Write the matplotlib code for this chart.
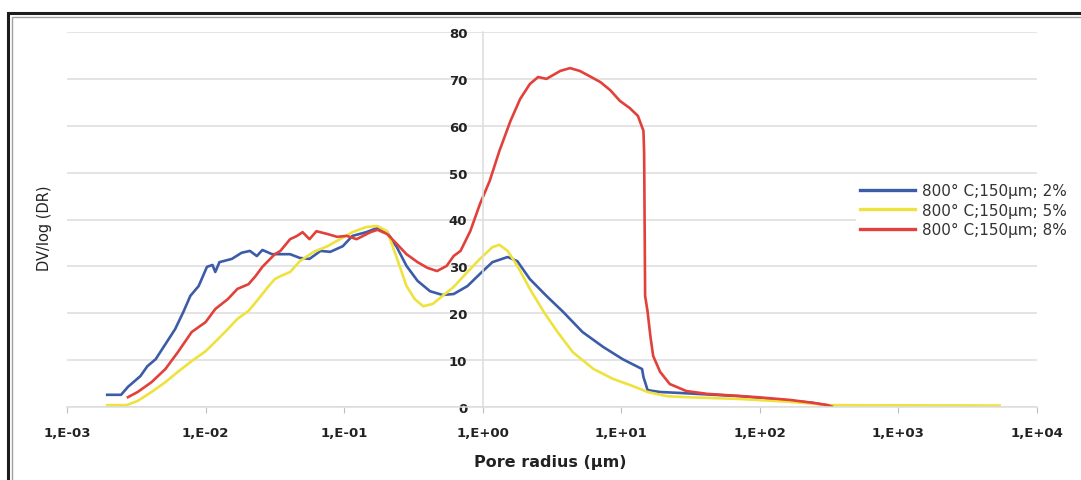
"""
Distribución de tamaño de poro (DV/log(DR)) para tres muestras a 800 °C.
"""
import matplotlib.pyplot as plt
from matplotlib.patches import Rectangle
from matplotlib.ticker import FixedLocator, FuncFormatter, NullLocator
import numpy as np

# Datos: log10 del radio de poro (µm) y DV/log(DR)
labels = ["800° C;150µm; 2%", "800° C;150µm; 5%", "800° C;150µm; 8%"]
colors = ["#3c5ca8", "#eee23e", "#e2403a"]

log_r_2 = [-2.71, -2.61, -2.56, -2.47, -2.42, -2.36, -2.29, -2.22, -2.16, -2.11,
           -2.05, -1.99, -1.95, -1.93, -1.90, -1.81, -1.74, -1.68, -1.63, -1.59,
           -1.52, -1.39, -1.32, -1.25, -1.17, -1.10, -1.01, -0.94, -0.84, -0.76,
           -0.69, -0.62, -0.55, -0.47, -0.38, -0.29, -0.21, -0.11, -0.02, 0.07,
           0.18, 0.25, 0.34, 0.46, 0.58, 0.72, 0.87, 1.01, 1.11, 1.15,
           1.16, 1.19, 1.28, 1.42, 1.86, 2.22, 2.38, 2.48, 2.51]
dv_2 = [2.6, 2.6, 4.3, 6.6, 8.7, 10.2, 13.4, 16.6, 20.3, 23.7,
        25.8, 29.9, 30.3, 28.8, 30.9, 31.6, 32.9, 33.3, 32.2, 33.5,
        32.6, 32.6, 31.8, 31.6, 33.3, 33.1, 34.3, 36.5, 37.3, 38.2,
        37.3, 34.1, 30.1, 26.9, 24.7, 23.9, 24.1, 25.8, 28.4, 30.9,
        32.0, 31.1, 27.3, 23.7, 20.3, 16.0, 12.8, 10.2, 8.7, 8.1,
        6.4, 3.6, 3.2, 3.0, 2.3, 1.3, 0.9, 0.4, 0.1]

log_r_5 = [-2.71, -2.57, -2.49, -2.39, -2.29, -2.20, -2.10, -2.00, -1.91, -1.84,
           -1.77, -1.69, -1.62, -1.55, -1.50, -1.46, -1.39, -1.32, -1.22, -1.12,
           -1.03, -0.94, -0.84, -0.76, -0.69, -0.65, -0.60, -0.55, -0.49, -0.43,
           -0.36, -0.29, -0.21, -0.11, -0.02, 0.07, 0.12, 0.18, 0.25, 0.34,
           0.44, 0.54, 0.65, 0.80, 0.94, 1.08, 1.19, 1.33, 1.47, 1.86,
           2.22, 2.43, 2.48, 3.73]
dv_5 = [0.4, 0.4, 1.3, 3.2, 5.3, 7.5, 9.8, 11.9, 14.5, 16.6,
        18.8, 20.5, 23.0, 25.6, 27.3, 27.9, 28.8, 31.1, 33.1, 34.3,
        35.8, 37.3, 38.4, 38.6, 37.5, 34.3, 30.1, 25.8, 23.0, 21.5,
        22.0, 23.7, 25.6, 28.8, 31.6, 34.1, 34.6, 33.3, 30.1, 25.2,
        20.3, 16.0, 11.7, 8.1, 6.0, 4.5, 3.2, 2.3, 2.1, 1.7,
        1.1, 0.6, 0.4, 0.3]

log_r_8 = [-2.56, -2.49, -2.39, -2.29, -2.20, -2.10, -2.00, -1.93, -1.84, -1.77,
           -1.69, -1.64, -1.59, -1.55, -1.50, -1.46, -1.39, -1.34, -1.30, -1.25,
           -1.20, -1.12, -1.05, -0.98, -0.91, -0.81, -0.76, -0.69, -0.62, -0.55,
           -0.47, -0.40, -0.33, -0.26, -0.21, -0.16, -0.09, -0.02, 0.05, 0.12,
           0.20, 0.27, 0.34, 0.40, 0.46, 0.56, 0.63, 0.70, 0.77, 0.85,
           0.92, 0.99, 1.06, 1.12, 1.16, 1.165, 1.17, 1.172, 1.19, 1.21,
           1.23, 1.28, 1.35, 1.47, 1.62, 1.98, 2.22, 2.38, 2.49, 2.52]
dv_8 = [2.1, 3.2, 5.3, 8.1, 11.7, 16.0, 18.1, 20.9, 23.0, 25.2,
        26.2, 27.9, 29.9, 31.1, 32.6, 33.3, 35.8, 36.5, 37.3, 35.8,
        37.5, 36.9, 36.3, 36.5, 35.8, 37.3, 37.8, 36.9, 34.8, 32.6,
        30.9, 29.7, 29.0, 30.1, 32.2, 33.3, 37.5, 43.3, 48.2, 54.6,
        61.0, 65.7, 68.9, 70.4, 70.0, 71.7, 72.3, 71.7, 70.6, 69.3,
        67.6, 65.3, 63.8, 62.1, 58.9, 54.0, 32.6, 23.7, 20.3, 15.1,
        10.9, 7.5, 4.9, 3.4, 2.8, 2.1, 1.5, 0.9, 0.4, 0.1]

decades = [-3, -2, -1, 0, 1, 2, 3, 4]
y_ticks = [0, 10, 20, 30, 40, 50, 60, 70, 80]

W, H = 1081, 481
fig = plt.figure(figsize=(W / 100, H / 100), dpi=100)
fig.patch.set_facecolor('white')

# Marco doble alrededor de la imagen
fig.patches.append(Rectangle((8 / W, -0.1), 1.2, 1.1 - 14 / H, transform=fig.transFigure,
                             fill=False, edgecolor='#1c1c1c', linewidth=2.2))
fig.patches.append(Rectangle((12 / W, -0.1), 1.2, 1.1 - 18 / H, transform=fig.transFigure,
                             fill=False, edgecolor='#a0a0a0', linewidth=1.0))

ax = fig.add_axes([67 / W, 73 / H, 970 / W, 375 / H])
ax.set_xscale('log')

series = [(log_r_2, dv_2), (log_r_5, dv_5), (log_r_8, dv_8)]
for (lr, dv), color, label in zip(series, colors, labels):
    ax.plot(10 ** np.array(lr), dv, color=color, linewidth=1.9, label=label)

ax.set_xlim(10.0 ** decades[0], 10.0 ** decades[-1])
ax.set_ylim(0, 80)

# Ejes y rejilla al estilo Excel
grid_color = '#dcdcdc'
ax.yaxis.grid(True, color=grid_color, linewidth=1.1)
ax.set_axisbelow(True)
for side in ['top', 'right']:
    ax.spines[side].set_visible(False)
ax.spines['left'].set_position(('data', 1))
ax.spines['left'].set_color(grid_color)
ax.spines['left'].set_linewidth(1.1)
ax.spines['bottom'].set_color(grid_color)
ax.spines['bottom'].set_linewidth(1.1)

ax.xaxis.set_major_locator(FixedLocator([10.0 ** d for d in decades]))
ax.xaxis.set_minor_locator(NullLocator())
ax.xaxis.set_major_formatter(FuncFormatter(lambda v, pos: "1,E%+03d" % round(np.log10(v))))
ax.set_yticks(y_ticks)
ax.set_yticklabels([str(t) for t in y_ticks])

ax.tick_params(axis='x', length=4, color='#bfbfbf', pad=10, labelsize=9.5, labelcolor='#222222')
ax.tick_params(axis='y', length=0, pad=11, labelsize=9.5, labelcolor='#222222')
for lbl in ax.get_xticklabels() + ax.get_yticklabels():
    lbl.set_fontweight('bold')

fig.text(45 / W, 1 - 228 / H, 'DV/log (DR)', rotation=90, ha='center', va='center',
         fontsize=10.5, color='#222222')
fig.text(550 / W, 1 - 462 / H, 'Pore radius (µm)', ha='center', va='center',
         fontsize=11.5, fontweight='bold', color='#222222')

leg = ax.legend(loc='upper left', bbox_to_anchor=(848 / W, 1 - 172 / H),
                bbox_transform=fig.transFigure, frameon=True, facecolor='white',
                edgecolor='none', framealpha=1, fontsize=11, handlelength=3.6,
                handletextpad=0.45, labelspacing=0.3, borderpad=0.3)
for line in leg.get_lines():
    line.set_linewidth(2.4)
for txt in leg.get_texts():
    txt.set_color('#333333')

fig.savefig('out.png', dpi=100)
